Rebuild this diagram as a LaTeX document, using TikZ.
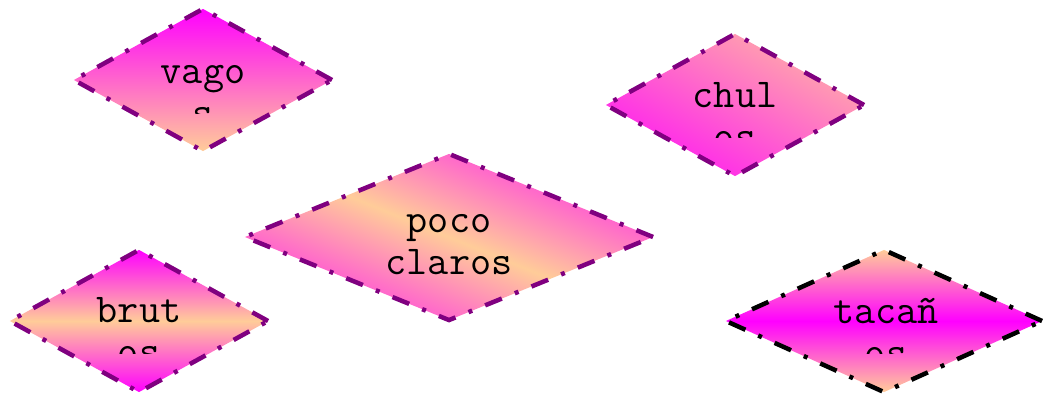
\documentclass[tikz,border=0pt]{standalone}
\usepackage{fontspec}
\usetikzlibrary{shapes.geometric}
\definecolor{peach}{RGB}{255,204,153}
\definecolor{mag}{RGB}{255,0,255}
\definecolor{edgepurple}{RGB}{128,0,128}
\pgfdeclarehorizontalshading{magpeachmag}{100bp}{color(0bp)=(mag); color(50bp)=(peach); color(100bp)=(mag)}
\pgfdeclarehorizontalshading{magpeach}{100bp}{color(0bp)=(mag); color(100bp)=(peach)}
% #1 shading, #2 #3 centre (px), #4 #5 width/100, height/100
\newcommand{\diagshade}[5]{%
  \pgflowlevel{\pgftransformcm{#4}{#5}{#4}{-#5}{\pgfpoint{#2pt}{-#3pt}}}%
  \pgfuseshading{#1}}
\tikzset{
  dia/.style={shape=diamond, inner sep=0pt, draw=edgepurple, line width=4.5pt,
    dash pattern=on 18pt off 14pt on 4pt off 14pt, line join=miter},
  lbl/.style={font=\ttfamily\fontsize{41}{42}\selectfont, align=center, inner sep=0pt, anchor=base}
}
\begin{document}
\begin{tikzpicture}[x=1pt,y=-1pt]
\useasboundingbox (0,0) rectangle (1043,396);
% vago
\node[dia, minimum width=260pt, minimum height=144pt, top color=mag, bottom color=peach] (vago) at (203,80) {};
\begin{scope}
\clip (73,0) rectangle (333,113);
\node[lbl] (vagot) at (203,125) {vago\\s};
\end{scope}
% chul
\node[dia, minimum width=260pt, minimum height=144pt,
  path picture={\diagshade{magpeach}{735}{105}{2.60}{1.44}}] (chul) at (735,105) {};
\begin{scope}
\clip (605,0) rectangle (866,137);
\node[lbl] (chult) at (735,149) {chul\\os};
\end{scope}
% poco claros
\node[dia, minimum width=410pt, minimum height=168pt,
  path picture={\diagshade{magpeachmag}{449}{237}{4.10}{1.68}}] (poco) at (449,237) {};
\node[lbl] (pocot) at (449,274) {poco\\claros};
% brut
\node[dia, minimum width=260pt, minimum height=144pt, top color=mag, bottom color=mag, middle color=peach] (brut) at (139,321) {};
\begin{scope}
\clip (8,240) rectangle (270,353);
\node[lbl] (brutt) at (139,364) {brut\\os};
\end{scope}
% tacan
\node[dia, draw=black, minimum width=318pt, minimum height=144pt, top color=peach, bottom color=peach, middle color=mag] (tacan) at (884,321) {};
\begin{scope}
\clip (724,240) rectangle (1043,353);
\node[lbl] (tacant) at (886,365) {tacañ\\os};
\end{scope}
\end{tikzpicture}
\end{document}
